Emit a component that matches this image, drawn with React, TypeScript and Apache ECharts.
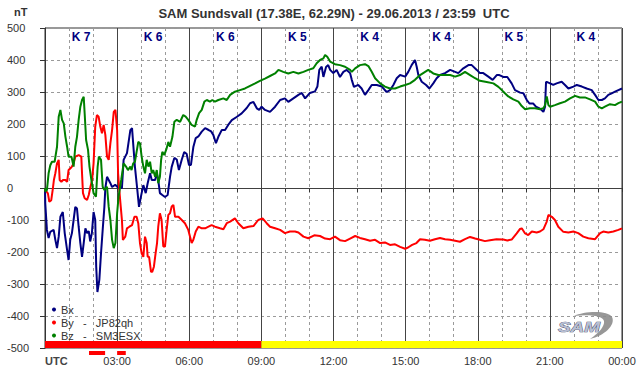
import React, { useEffect, useRef } from 'react';
import * as echarts from 'echarts';

const FONT = '"Liberation Sans", Arial, Helvetica, sans-serif';

// Hours (UTC) and nT values
const bxData: number[][] = [[0,0],[0.01,-47],[0.08,-131],[0.15,-156],[0.22,-137],[0.36,-131],[0.43,-162],[0.5,-188],[0.57,-152],[0.64,-90],[0.74,-75],[0.82,-141],[0.92,-194],[0.98,-225],[1.05,-162],[1.12,-141],[1.19,-100],[1.26,-59],[1.33,-64],[1.4,-121],[1.47,-172],[1.54,-215],[1.61,-172],[1.68,-126],[1.75,-141],[1.82,-135],[1.88,-167],[1.95,-141],[2.02,-75],[2.09,-100],[2.13,-246],[2.18,-325],[2.26,-287],[2.33,-204],[2.4,-130],[2.47,-59],[2.51,0],[2.58,35],[2.65,25],[2.72,15],[2.79,3],[2.92,10],[3.06,0],[3.2,0],[3.27,88],[3.41,109],[3.55,181],[3.62,187],[3.74,67],[3.84,-6],[3.91,-59],[3.99,-27],[4.09,9],[4.19,-16],[4.27,15],[4.37,46],[4.44,25],[4.58,25],[4.65,46],[4.71,25],[4.78,-16],[4.88,-22],[4.99,-28],[5.1,-22],[5.2,35],[5.27,66],[5.38,94],[5.48,89],[5.57,56],[5.69,89],[5.79,112],[5.89,107],[5.99,72],[6.07,72],[6.17,128],[6.27,156],[6.38,161],[6.52,176],[6.66,187],[6.79,182],[6.91,177],[7.0,166],[7.11,140],[7.21,160],[7.35,181],[7.49,181],[7.62,197],[7.77,212],[7.97,222],[8.18,233],[8.39,250],[8.53,265],[8.67,269],[8.81,249],[8.91,244],[9.01,254],[9.15,244],[9.36,238],[9.57,254],[9.78,275],[9.98,280],[10.12,269],[10.33,280],[10.54,291],[10.68,297],[10.82,280],[11.02,297],[11.23,302],[11.33,317],[11.41,369],[11.51,379],[11.58,347],[11.69,378],[11.78,384],[11.86,369],[11.99,359],[12.13,369],[12.27,347],[12.41,363],[12.55,369],[12.69,359],[12.76,338],[12.85,316],[13.03,322],[13.17,311],[13.31,291],[13.45,306],[13.59,322],[13.8,322],[14.01,317],[14.21,300],[14.35,306],[14.49,322],[14.63,343],[14.77,353],[14.98,348],[15.11,363],[15.25,384],[15.39,400],[15.46,379],[15.53,353],[15.67,332],[15.85,322],[15.99,311],[16.15,327],[16.29,343],[16.43,353],[16.64,359],[16.85,369],[17.06,363],[17.19,359],[17.4,374],[17.61,384],[17.75,384],[17.96,369],[18.09,359],[18.23,359],[18.44,348],[18.62,338],[18.79,353],[18.9,353],[19.06,347],[19.23,347],[19.41,327],[19.55,306],[19.76,298],[19.9,296],[20.04,275],[20.15,264],[20.31,264],[20.42,254],[20.59,248],[20.73,238],[20.8,254],[20.84,331],[20.89,331],[21.01,327],[21.14,322],[21.28,327],[21.49,332],[21.63,322],[21.77,311],[21.98,317],[22.12,322],[22.33,317],[22.53,311],[22.74,306],[22.88,291],[23.02,275],[23.16,275],[23.29,280],[23.43,291],[23.57,296],[23.71,301],[23.85,306],[24,311]];

const byData: number[][] = [[0,0],[0.01,-6],[0.12,-17],[0.18,-43],[0.26,-38],[0.32,-6],[0.37,25],[0.43,46],[0.5,77],[0.57,88],[0.61,25],[0.68,19],[0.75,25],[0.85,25],[0.92,19],[0.98,56],[1.05,61],[1.12,67],[1.19,77],[1.26,98],[1.4,103],[1.51,98],[1.54,46],[1.58,-16],[1.65,-32],[1.75,-37],[1.82,-22],[1.89,4],[1.96,25],[2.02,77],[2.09,192],[2.16,228],[2.23,223],[2.3,192],[2.37,171],[2.44,197],[2.51,166],[2.58,98],[2.65,88],[2.72,140],[2.79,181],[2.86,238],[2.93,244],[3.0,181],[3.04,46],[3.09,-6],[3.15,-58],[3.2,-100],[3.24,-162],[3.34,-152],[3.41,-126],[3.51,-121],[3.62,-116],[3.72,-90],[3.81,-90],[3.88,-110],[3.95,-172],[4.02,-204],[4.09,-215],[4.16,-152],[4.23,-172],[4.27,-215],[4.33,-215],[4.41,-262],[4.46,-262],[4.53,-246],[4.6,-204],[4.66,-172],[4.71,-121],[4.78,-79],[4.85,-100],[4.92,-183],[4.99,-183],[5.06,-131],[5.13,-84],[5.2,-79],[5.27,-58],[5.34,-53],[5.41,-90],[5.55,-90],[5.69,-100],[5.82,-110],[5.96,-131],[6.1,-172],[6.17,-162],[6.27,-136],[6.38,-121],[6.52,-126],[6.66,-126],[6.8,-121],[6.93,-116],[7.07,-121],[7.28,-126],[7.42,-129],[7.56,-110],[7.7,-105],[7.9,-95],[8.04,-110],[8.25,-126],[8.46,-121],[8.67,-119],[8.87,-100],[9.05,-95],[9.22,-110],[9.36,-121],[9.57,-126],[9.78,-131],[9.98,-141],[10.19,-136],[10.4,-136],[10.54,-139],[10.75,-152],[10.95,-157],[11.2,-148],[11.44,-150],[11.65,-158],[11.86,-160],[12.06,-152],[12.27,-163],[12.48,-166],[12.69,-158],[12.9,-150],[13.1,-156],[13.31,-160],[13.52,-165],[13.73,-162],[13.94,-172],[14.14,-170],[14.35,-178],[14.56,-176],[14.77,-184],[14.98,-190],[15.1,-186],[15.27,-178],[15.45,-172],[15.6,-160],[15.8,-162],[16.01,-165],[16.22,-160],[16.43,-156],[16.64,-160],[16.85,-162],[17.06,-165],[17.26,-168],[17.47,-160],[17.68,-153],[17.89,-158],[18.09,-162],[18.3,-166],[18.51,-163],[18.78,-160],[19.06,-161],[19.23,-164],[19.41,-161],[19.62,-142],[19.76,-128],[19.83,-126],[19.97,-142],[20.1,-147],[20.25,-136],[20.45,-139],[20.59,-136],[20.73,-129],[20.87,-105],[20.94,-84],[21.08,-90],[21.21,-100],[21.35,-121],[21.56,-137],[21.77,-139],[21.98,-136],[22.18,-141],[22.39,-152],[22.6,-157],[22.88,-160],[23.09,-141],[23.22,-136],[23.43,-139],[23.64,-136],[23.85,-131],[24,-126]];

const bzData: number[][] = [[0,0],[0.01,-11],[0.08,-6],[0.15,46],[0.22,71],[0.29,82],[0.4,82],[0.5,129],[0.57,223],[0.64,244],[0.71,213],[0.78,202],[0.85,160],[0.92,129],[0.98,98],[1.1,98],[1.19,67],[1.26,129],[1.33,160],[1.4,213],[1.47,254],[1.54,275],[1.61,285],[1.65,233],[1.71,150],[1.79,119],[1.85,67],[1.93,25],[2.02,-16],[2.12,-27],[2.19,67],[2.24,98],[2.33,88],[2.4,4],[2.47,-6],[2.58,4],[2.65,-59],[2.72,-100],[2.79,-162],[2.86,-188],[2.93,-172],[3.0,-79],[3.06,-27],[3.17,25],[3.27,77],[3.37,67],[3.45,56],[3.55,67],[3.6,56],[3.67,77],[3.74,82],[3.81,113],[3.88,144],[3.95,140],[4.02,98],[4.09,67],[4.16,46],[4.23,88],[4.3,67],[4.37,82],[4.44,46],[4.5,56],[4.58,35],[4.65,56],[4.71,15],[4.78,35],[4.83,88],[4.88,113],[4.96,103],[5.06,124],[5.13,144],[5.2,129],[5.3,160],[5.38,207],[5.48,213],[5.62,207],[5.75,228],[5.85,223],[5.96,213],[6.1,197],[6.24,192],[6.31,213],[6.41,234],[6.52,244],[6.63,270],[6.73,275],[6.86,270],[6.96,275],[7.07,270],[7.21,275],[7.42,280],[7.56,275],[7.7,291],[7.9,301],[8.11,306],[8.32,311],[8.53,319],[8.74,327],[8.94,335],[9.15,342],[9.36,350],[9.57,358],[9.71,369],[9.91,363],[10.12,358],[10.33,363],[10.54,358],[10.75,363],[10.95,369],[11.16,374],[11.3,390],[11.44,400],[11.58,405],[11.65,416],[11.74,410],[11.86,395],[12.06,387],[12.27,384],[12.48,379],[12.69,369],[12.76,363],[12.9,374],[13.1,384],[13.31,387],[13.45,381],[13.59,363],[13.73,343],[13.94,327],[14.14,317],[14.35,311],[14.56,311],[14.77,317],[14.98,322],[15.18,327],[15.39,338],[15.6,353],[15.81,363],[15.94,369],[16.15,358],[16.36,353],[16.57,353],[16.85,353],[17.06,348],[17.26,353],[17.47,363],[17.68,353],[17.89,343],[18.09,335],[18.37,331],[18.65,327],[18.86,316],[19.0,306],[19.13,296],[19.27,286],[19.48,277],[19.69,270],[19.83,256],[19.97,246],[20.17,249],[20.38,249],[20.59,246],[20.73,249],[20.8,259],[20.87,286],[20.94,259],[21.01,254],[21.21,259],[21.42,265],[21.63,270],[21.84,280],[22.05,288],[22.25,283],[22.46,283],[22.67,277],[22.88,270],[23.02,254],[23.16,249],[23.29,254],[23.5,262],[23.71,259],[23.85,265],[24,270]];

// K index for each 3-hour block
const kIndex: number[] = [7, 6, 6, 5, 4, 4, 5, 4];
// Activity bar: [startHour, endHour, level] (0 = disturbed, 1 = quiet)
const activityBands: number[][] = [[0, 9, 0], [9, 24, 1]];
// Short markers below the axis: [startHour, endHour]
const alertMarks: number[][] = [[1.83, 2.5], [3.0, 3.36]];

const seriesNames = ['Bx', 'By', 'Bz'];
const legendLabels: Record<string, string> = {
  Bx: 'Bx',
  By: 'By   -   JP82qh',
  Bz: 'Bz   -   SM3ESX',
};

const SWOOSH_D = 'M0 5 C10 0 34 -1 38 6 C42 14 30 25 16 28 C25 22 31 15 30 10 C29 5 16 3 0 5 Z';
let registered = false;

export default function App() {
  const ref = useRef<HTMLDivElement>(null);
  useEffect(() => {
    if (!ref.current) return;
    if (!registered) {
      echarts.graphic.registerShape('samSwoosh', echarts.graphic.extendPath(SWOOSH_D, {}));
      registered = true;
    }
    const chart = echarts.init(ref.current, null, { renderer: 'svg' });
    const pad = (n: number) => (n < 10 ? '0' + n : '' + n);
    const lineSeries = (name: string, data: number[][], color: string, extra: any = {}) => ({
      name,
      type: 'line',
      data,
      showSymbol: false,
      symbol: 'circle',
      lineStyle: { color, width: 2 },
      itemStyle: { color },
      z: 3,
      ...extra,
    });
    const option: any = {
      animation: false,
      backgroundColor: '#ffffff',
      textStyle: { fontFamily: FONT },
      grid: { left: 45, right: 20, top: 28, bottom: 28, show: true, borderColor: '#333333', borderWidth: 1, backgroundColor: 'transparent' },
      legend: {
        data: seriesNames,
        orient: 'vertical',
        left: 47,
        top: 298,
        icon: 'circle',
        itemWidth: 4,
        itemHeight: 4,
        itemGap: 0,
        selectedMode: false,
        formatter: (n: string) => legendLabels[n],
        textStyle: { fontSize: 11, color: '#333333', fontFamily: FONT, lineHeight: 13 },
      },
      xAxis: {
        type: 'value',
        min: 0,
        max: 24,
        interval: 3,
        axisLine: { show: true, lineStyle: { color: '#333333', width: 1 } },
        axisTick: { show: true, length: 4, lineStyle: { color: '#333333' } },
        minorTick: { show: true, splitNumber: 3, length: 4, lineStyle: { color: '#333333' } },
        splitLine: { show: true, lineStyle: { color: '#444444', width: 1, type: 'solid' } },
        minorSplitLine: { show: true, lineStyle: { color: '#9a9a9a', width: 1, type: [3, 3] } },
        axisLabel: {
          fontSize: 11,
          color: '#333333',
          fontFamily: FONT,
          margin: 7,
          showMinLabel: true,
          showMaxLabel: true,
          formatter: (v: number) => (v === 0 ? '' : pad(v % 24) + ':00'),
        },
      },
      yAxis: {
        type: 'value',
        min: -500,
        max: 500,
        interval: 100,
        axisLine: { show: true, lineStyle: { color: '#333333', width: 1 } },
        axisTick: { show: true, length: 5, lineStyle: { color: '#333333' } },
        splitLine: { show: true, lineStyle: { color: '#9a9a9a', width: 1, type: [3, 3] } },
        axisLabel: { fontSize: 11, color: '#333333', fontFamily: FONT, align: 'left', margin: 38 },
      },
      series: [
        lineSeries('Bx', bxData, '#000080', {
          markLine: {
            silent: true,
            symbol: ['none', 'none'],
            label: { show: false },
            lineStyle: { color: '#404040', type: 'solid', width: 1 },
            data: [{ yAxis: 0 }],
            z: 1,
          },
        }),
        lineSeries('By', byData, '#ff0000'),
        lineSeries('Bz', bzData, '#008000'),
        {
          type: 'custom',
          name: 'activity',
          clip: false,
          silent: true,
          z: 4,
          data: activityBands,
          renderItem: (_p: any, api: any) => {
            const a = api.coord([api.value(0), -500]);
            const b = api.coord([api.value(1), -500]);
            const fill = api.value(2) === 0 ? '#ff0000' : '#ffff00';
            return { type: 'rect', shape: { x: a[0], y: a[1] - 7, width: b[0] - a[0], height: 7 }, style: { fill } };
          },
        },
        {
          type: 'custom',
          name: 'alerts',
          clip: false,
          silent: true,
          z: 4,
          data: alertMarks,
          renderItem: (_p: any, api: any) => {
            const a = api.coord([api.value(0), -500]);
            const b = api.coord([api.value(1), -500]);
            return { type: 'rect', shape: { x: a[0], y: a[1] + 3, width: b[0] - a[0], height: 4 }, style: { fill: '#ff0000' } };
          },
        },
        {
          type: 'custom',
          name: 'kindex',
          clip: false,
          silent: true,
          z: 5,
          data: kIndex.map((k, i) => [i * 3 + 1.5, k]),
          renderItem: (_p: any, api: any) => {
            const p = api.coord([api.value(0), 500]);
            return {
              type: 'text',
              x: p[0],
              y: p[1] + 9,
              style: {
                text: 'K ' + api.value(1),
                fill: '#000080',
                font: 'bold 12px ' + FONT,
                textAlign: 'center',
                textVerticalAlign: 'middle',
              },
            };
          },
        },
      ],
      graphic: [
        {
          type: 'text',
          x: 334,
          y: 13,
          style: {
            text: 'SAM Sundsvall (17.38E, 62.29N) - 29.06.2013 / 23:59  UTC',
            fill: '#333333',
            font: 'bold 13px ' + FONT,
            textAlign: 'center',
            textVerticalAlign: 'middle',
          },
        },
        {
          type: 'text',
          x: 14,
          y: 12,
          style: { text: 'nT', fill: '#333333', font: 'bold 11px ' + FONT, textAlign: 'left', textVerticalAlign: 'middle' },
        },
        {
          type: 'text',
          x: 45,
          y: 361,
          style: { text: 'UTC', fill: '#444444', font: 'bold 11px ' + FONT, textAlign: 'left', textVerticalAlign: 'middle' },
        },
        {
          type: 'samSwoosh',
          x: 574,
          y: 311,
          style: { fill: '#8c8c8c', opacity: 0.9 },
          z: 10,
        },
        {
          type: 'text',
          x: 558,
          y: 327,
          scaleX: 1.35,
          style: {
            text: 'SAM',
            fill: '#b8bfd4',
            stroke: '#3d4660',
            lineWidth: 0.7,
            font: 'italic bold 14px ' + FONT,
            textAlign: 'left',
            textVerticalAlign: 'middle',
          },
          z: 11,
        },
      ],
    };
    chart.setOption(option);
    return () => chart.dispose();
  }, []);
  return <div ref={ref} style={{ position: 'fixed', left: 0, top: 0, width: 642, height: 376, background: '#fff' }} />;
}
